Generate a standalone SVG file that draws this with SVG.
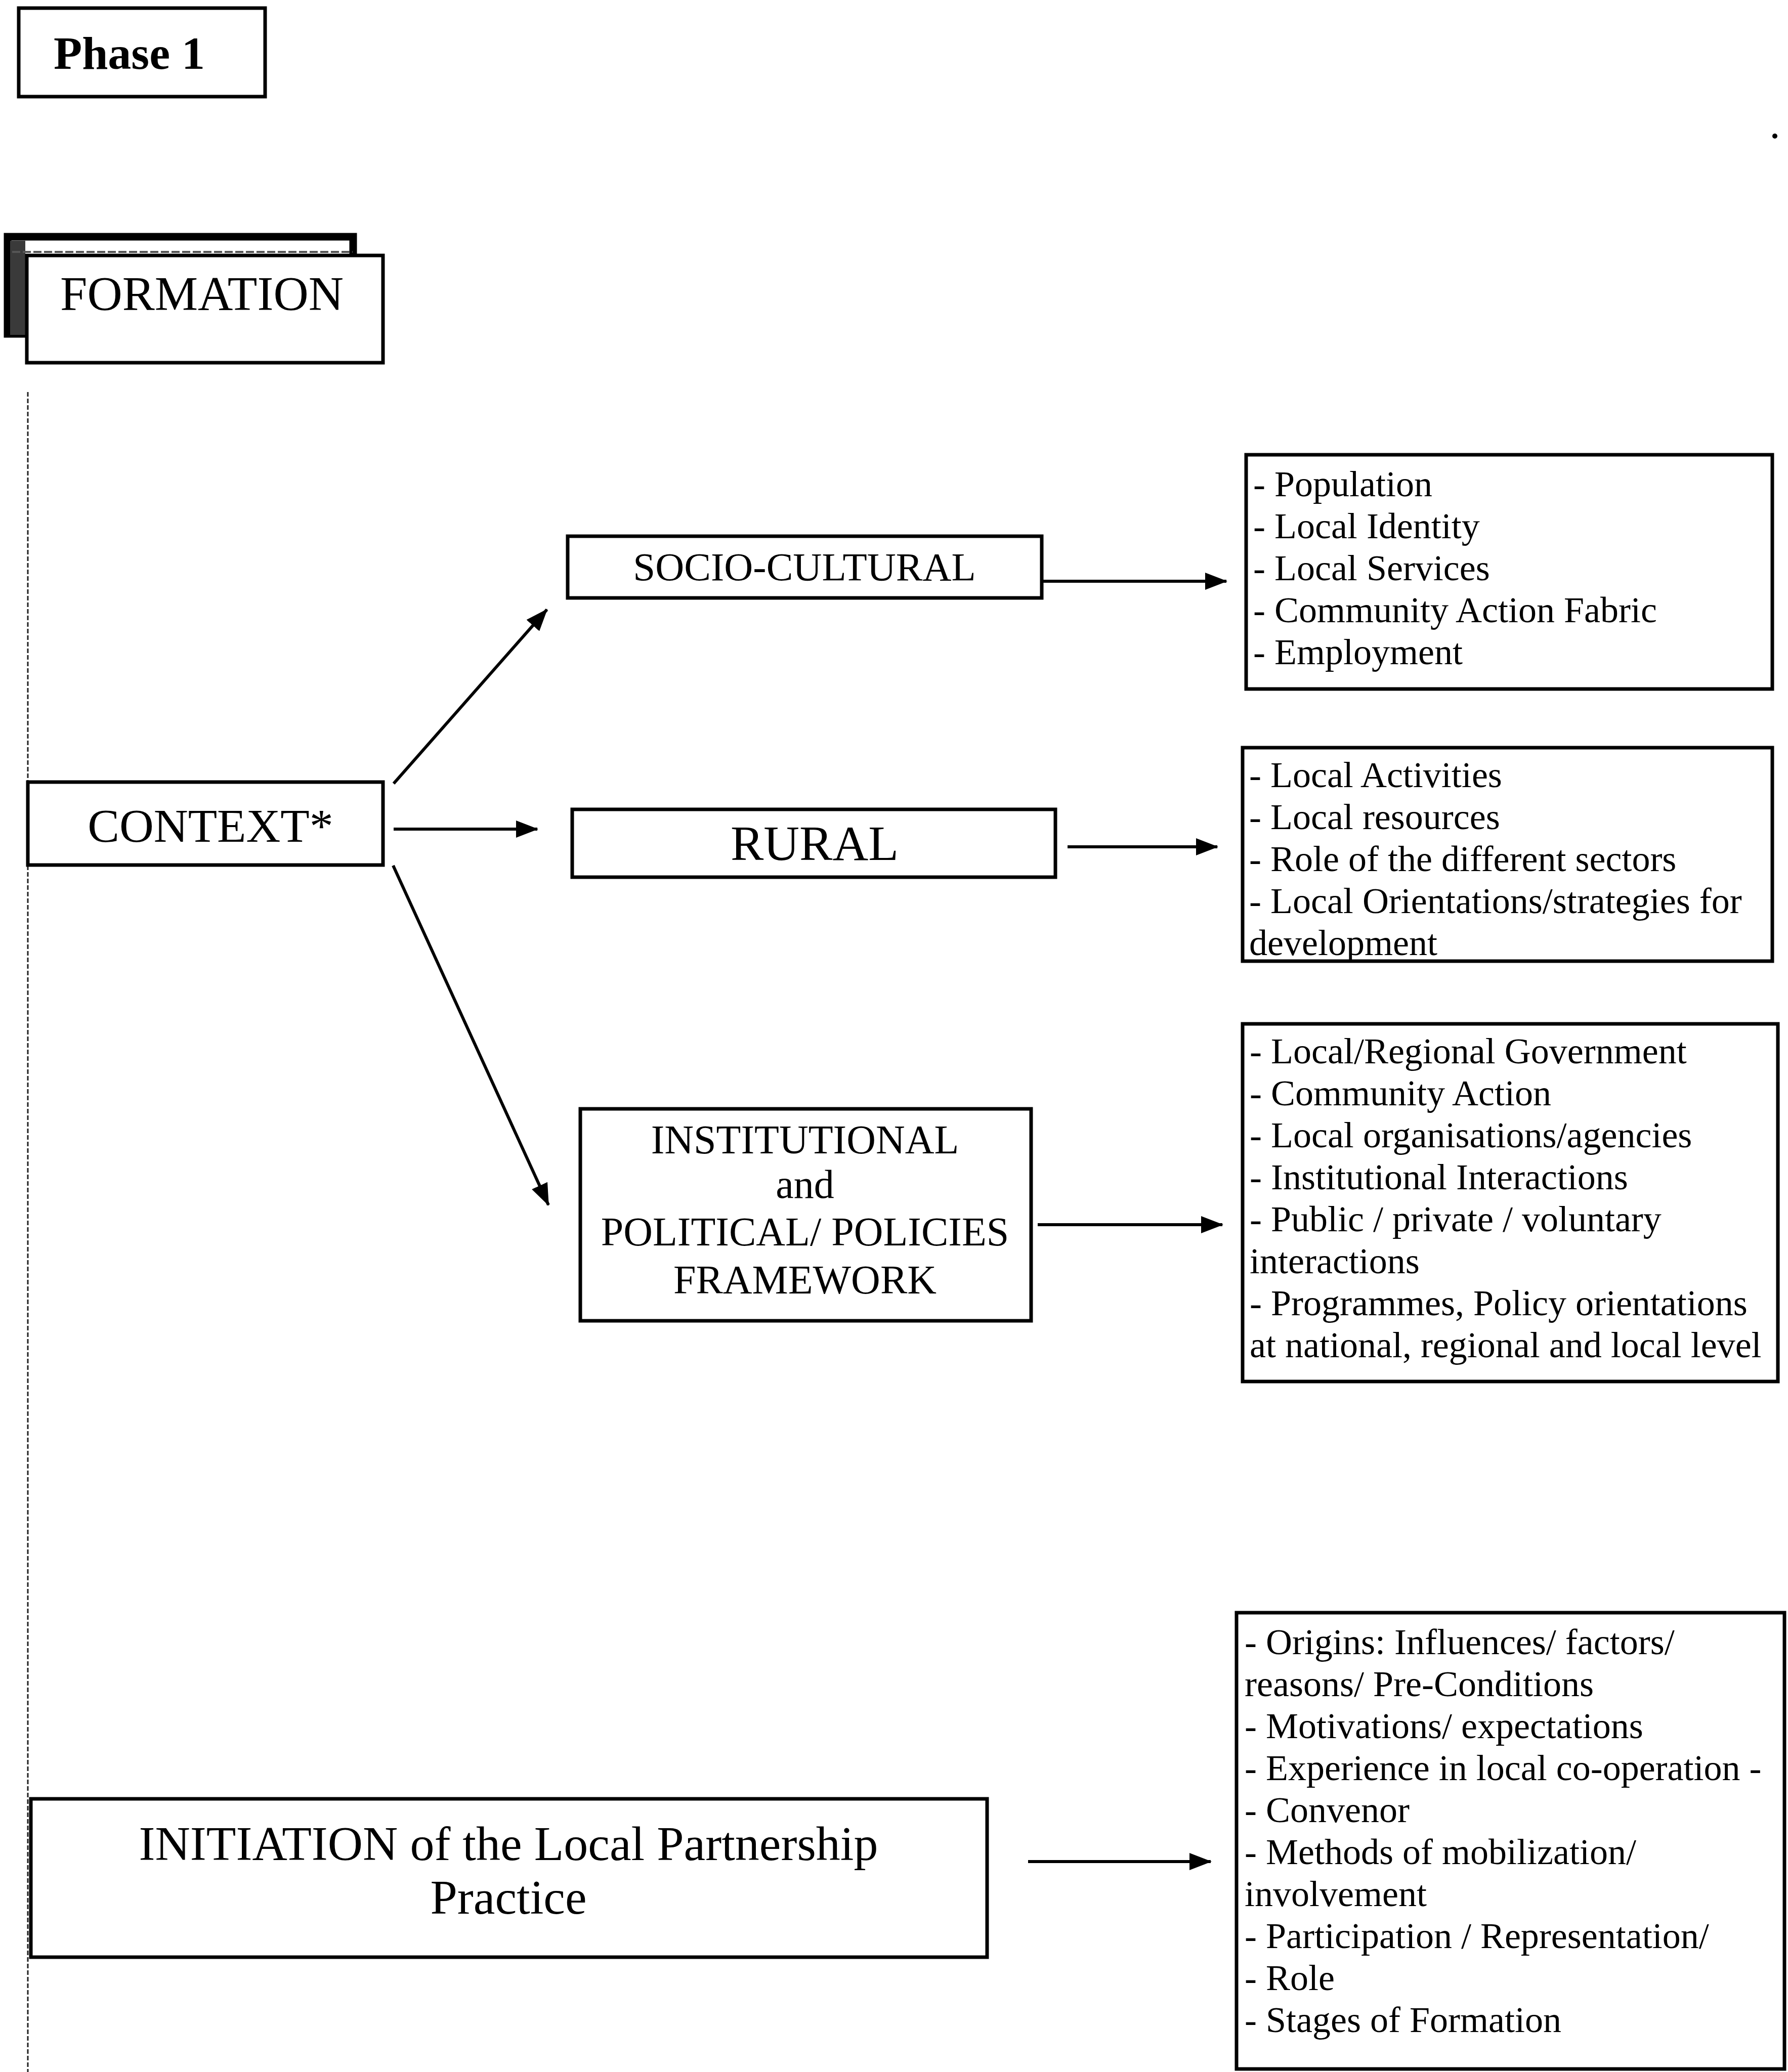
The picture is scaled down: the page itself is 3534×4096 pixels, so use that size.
<svg xmlns="http://www.w3.org/2000/svg" width="3534" height="4096" viewBox="0 0 3534 4096">
<defs>
<style>
.box{fill:#fff;stroke:#000;stroke-width:7}
.frame{fill:none;stroke:#000;stroke-width:7}
.t{font-family:"Liberation Serif","Times New Roman",serif;fill:#000}
.lst{font-family:"Liberation Serif","Times New Roman",serif;font-size:72px;fill:#000}
.c{text-anchor:middle}
.arr{stroke:#000;stroke-width:6;fill:none;marker-end:url(#ah)}
</style>
<marker id="ah" markerUnits="userSpaceOnUse" markerWidth="44" markerHeight="34" refX="42" refY="17" orient="auto">
<path d="M0,0 L44,17 L0,34 z" fill="#000"/>
</marker>
</defs>
<rect width="3534" height="4096" fill="#fff"/>

<g id="phase1">
<rect class="box" x="37" y="16" width="487" height="175"/>
<text class="t" x="106" y="136" font-size="92" font-weight="bold">Phase 1</text>
</g>

<g id="formation">
<rect x="15" y="468" width="683" height="192" fill="#fff" stroke="#000" stroke-width="15"/>
<rect x="20" y="476" width="30" height="186" fill="#3a3a3a"/>
<line x1="24" y1="498" x2="697" y2="498" stroke="#555" stroke-width="4" stroke-dasharray="16 5"/>
<rect class="box" x="53" y="505" width="704" height="212"/>
<text class="t" x="119" y="613" font-size="96">FORMATION</text>
</g>

<g id="timeline">
<line x1="55" y1="775" x2="55" y2="4096" stroke="#222" stroke-width="3" stroke-dasharray="9 4"/>
</g>

<g id="context">
<rect class="box" x="55" y="1546" width="702" height="164"/>
<text class="t c" x="416" y="1664" font-size="94">CONTEXT*</text>
</g>

<g id="socio-cultural">
<rect class="box" x="1122" y="1060" width="937" height="122"/>
<text class="t c" x="1590" y="1147" font-size="79">SOCIO-CULTURAL</text>
</g>

<g id="rural">
<rect class="box" x="1131" y="1600" width="955" height="134"/>
<text class="t c" x="1610" y="1700" font-size="98">RURAL</text>
</g>

<g id="institutional">
<rect class="box" x="1147" y="2192" width="891" height="419"/>
<text class="t c" x="1591" y="2280" font-size="80">INSTITUTIONAL</text>
<text class="t c" x="1591" y="2368" font-size="80">and</text>
<text class="t c" x="1591" y="2462" font-size="80">POLITICAL/ POLICIES</text>
<text class="t c" x="1591" y="2557" font-size="80">FRAMEWORK</text>
</g>

<g id="initiation">
<rect class="box" x="61" y="3556" width="1890" height="313"/>
<text class="t c" x="1005" y="3677" font-size="96">INITIATION of the Local Partnership</text>
<text class="t c" x="1005" y="3783" font-size="96">Practice</text>
</g>

<g id="socio-list">
<text class="lst" x="2477" y="981">- Population</text>
<text class="lst" x="2477" y="1064">- Local Identity</text>
<text class="lst" x="2477" y="1147">- Local Services</text>
<text class="lst" x="2477" y="1230">- Community Action Fabric</text>
<text class="lst" x="2477" y="1313">- Employment</text>
<rect class="frame" x="2463" y="899" width="1040" height="463"/>
</g>

<g id="rural-list">
<text class="lst" x="2469" y="1556">- Local Activities</text>
<text class="lst" x="2469" y="1639">- Local resources</text>
<text class="lst" x="2469" y="1722">- Role of the different sectors</text>
<text class="lst" x="2469" y="1805">- Local Orientations/strategies for</text>
<text class="lst" x="2469" y="1888">development</text>
<rect class="frame" x="2456" y="1478" width="1047" height="422"/>
</g>

<g id="institutional-list">
<text class="lst" x="2470" y="2102">- Local/Regional Government</text>
<text class="lst" x="2470" y="2185">- Community Action</text>
<text class="lst" x="2470" y="2268">- Local organisations/agencies</text>
<text class="lst" x="2470" y="2351">- Institutional Interactions</text>
<text class="lst" x="2470" y="2434">- Public / private / voluntary</text>
<text class="lst" x="2470" y="2517">interactions</text>
<text class="lst" x="2470" y="2600">- Programmes, Policy orientations</text>
<text class="lst" x="2470" y="2683">at national, regional and local level</text>
<rect class="frame" x="2456" y="2024" width="1058" height="707"/>
</g>

<g id="initiation-list">
<text class="lst" x="2460" y="3270">- Origins: Influences/ factors/</text>
<text class="lst" x="2460" y="3353">reasons/ Pre-Conditions</text>
<text class="lst" x="2460" y="3436">- Motivations/ expectations</text>
<text class="lst" x="2460" y="3519">- Experience in local co-operation -</text>
<text class="lst" x="2460" y="3602">- Convenor</text>
<text class="lst" x="2460" y="3685">- Methods of mobilization/</text>
<text class="lst" x="2460" y="3768">involvement</text>
<text class="lst" x="2460" y="3851">- Participation / Representation/</text>
<text class="lst" x="2460" y="3934">- Role</text>
<text class="lst" x="2460" y="4017">- Stages of Formation</text>
<rect class="frame" x="2444" y="3188" width="1083" height="902"/>
</g>

<g id="connectors">
<line class="arr" x1="778" y1="1549" x2="1081" y2="1205"/>
<line class="arr" x1="778" y1="1639" x2="1062" y2="1639"/>
<line class="arr" x1="777" y1="1711" x2="1084" y2="2382"/>
<line class="arr" x1="2059" y1="1149" x2="2424" y2="1149"/>
<line class="arr" x1="2110" y1="1674" x2="2406" y2="1674"/>
<line class="arr" x1="2051" y1="2421" x2="2416" y2="2421"/>
<line class="arr" x1="2032" y1="3680" x2="2393" y2="3680"/>
</g>

<circle cx="3508" cy="269" r="5" fill="#000"/>
</svg>
